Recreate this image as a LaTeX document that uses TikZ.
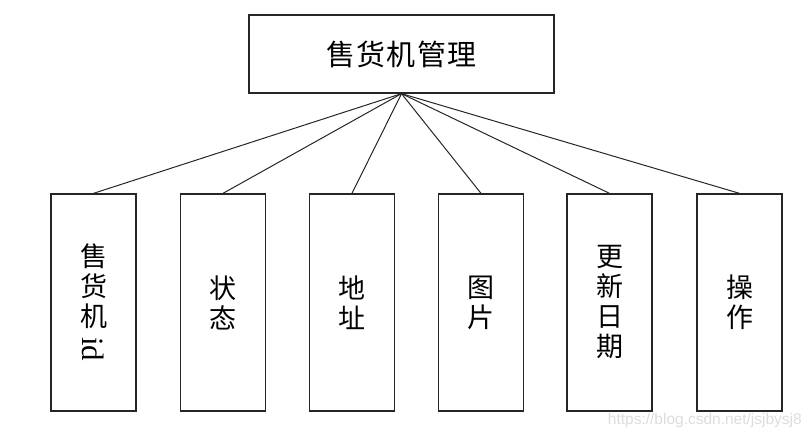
\documentclass[tikz,border=0pt]{standalone}
\usepackage{fontspec}
\setmainfont{Liberation Serif}
\newfontfamily\cjk{Noto Sans CJK SC}
\newfontfamily\wmfont{Liberation Sans}
\usepackage{tikz}
\usetikzlibrary{positioning}
\definecolor{boxLine}{HTML}{262626}
\definecolor{wmGray}{HTML}{DCDCDC}

\begin{document}
\begin{tikzpicture}[x=1pt, y=-1pt,
  bx/.style={draw=boxLine, line width=1.3pt, fill=white, inner sep=0pt},
  leaf/.style={bx, minimum width=85pt, minimum height=217pt, align=center,
    font=\cjk\fontsize{27}{30}\selectfont},
  lnk/.style={draw=black!85, line width=1pt}]
\useasboundingbox (0,0) rectangle (812,438);
\node[bx, minimum width=305pt, minimum height=78pt, font=\cjk\fontsize{29}{30}\selectfont] (root) at (401.5,54) {售\hspace{1.5pt}货\hspace{1.5pt}机\hspace{1.5pt}管\hspace{1.5pt}理};
\node[leaf] (vmid) at (93.5,302.5) {售\\货\\机\\{\rmfamily\fontsize{31}{30}\selectfont\raisebox{19pt}{\rotatebox{-90}{id}}}};
\node[leaf] (state) at (223,302.5) {状\\态};
\node[leaf] (addr) at (352,302.5) {地\\址};
\node[leaf] (pic) at (481,302.5) {图\\片};
\node[leaf] (upd) at (609.5,302.5) {更\\新\\日\\期};
\node[leaf] (op) at (739.5,302.5) {操\\作};
\draw[lnk] (root.south) -- (vmid.north);
\draw[lnk] (root.south) -- (state.north);
\draw[lnk] (root.south) -- (addr.north);
\draw[lnk] (root.south) -- (pic.north);
\draw[lnk] (root.south) -- (upd.north);
\draw[lnk] (root.south) -- (op.north);
\node[anchor=base east, inner sep=0pt, text=wmGray, font=\wmfont\fontsize{15.5}{16}\selectfont] (mark) at (802,425) {https://blog.csdn.net/jsjbysj8};
\end{tikzpicture}
\end{document}
